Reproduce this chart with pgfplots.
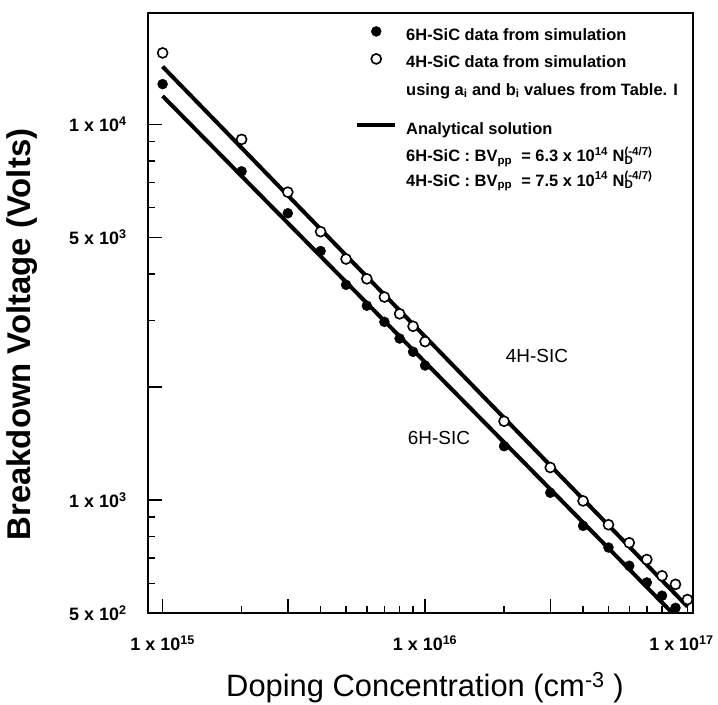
\documentclass[border=0pt]{standalone}
\usepackage{fontspec}
\setmainfont{Liberation Sans}
\usepackage{pgfplots}
\pgfplotsset{compat=1.18}
\pgfplotsset{
  markleg/.style={legend image code/.code={\draw[##1] plot coordinates {(19bp,0bp)}; \path (0bp,0bp) (38bp,0bp);}},
  lineleg/.style={legend image code/.code={\draw[##1] (0bp,0bp) -- (38bp,0bp);}},
}
\newcommand{\rs}{\rule[-6bp]{0pt}{25bp}}
\begin{document}
\begin{tikzpicture}
\useasboundingbox (-148bp,-92bp) rectangle (570bp,613bp);
\begin{axis}[
  scale only axis, width=545bp, height=600bp,
  xmode=log, ymode=log,
  xmin=8.8e14, xmax=1.05e17, ymin=500, ymax=19800,
  axis line style={line width=2bp},
  tick align=inside, xtick pos=bottom, ytick pos=left,
  major tick length=14bp, minor tick length=7bp,
  tick style={black, line width=1.5bp},
  xtick={1e15,3e15,1e16,3e16,1e17},
  xticklabels={1 x 10\textsuperscript{15},,1 x 10\textsuperscript{16},,\hspace*{-12bp}1 x 10\textsuperscript{17}},
  minor xtick={2e15,4e15,5e15,6e15,7e15,8e15,9e15,2e16,4e16,5e16,6e16,7e16,8e16,9e16},
  ytick={500,1000,2000,5000,10000},
  yticklabels={5 x 10\textsuperscript{2},1 x 10\textsuperscript{3},,5 x 10\textsuperscript{3},1 x 10\textsuperscript{4}},
  minor ytick={600,700,800,900,3000,4000,6000,7000,8000,9000},
  xticklabel style={font=\bfseries\fontsize{18}{20}\selectfont, yshift=-19bp},
  yticklabel style={font=\bfseries\fontsize{18}{20}\selectfont, xshift=-18bp},
  xlabel={Doping Concentration (cm\textsuperscript{-3}\ )},
  ylabel={\bfseries Breakdown Voltage (Volts)},
  every axis x label/.style={at={(axis description cs:0.508,-0.125)}, anchor=center, font=\fontsize{31}{35}\selectfont},
  every axis y label/.style={at={(axis description cs:-0.2312,0.464)}, anchor=center, rotate=90, font=\fontsize{33}{37}\selectfont},
  legend style={at={(axis description cs:0.3798,0.9867)}, anchor=north west, draw=none, fill=none, inner sep=0pt, column sep=9bp, row sep=7bp, font=\bfseries\fontsize{16.5}{19}\selectfont, nodes={inner sep=0pt}},
  legend cell align=left,
]
\addplot[only marks, mark=*, mark size=5bp, black, markleg]
  table {
x y
1e15 12800
2e15 7500
3e15 5800
4e15 4600
5e15 3740
6e15 3290
7e15 2980
8e15 2690
9e15 2480
1e16 2280
2e16 1390
3e16 1045
4e16 853
5e16 747
6e16 668
7e16 603
8e16 556
9e16 516
};
\addlegendentry{\rs 6H-SiC data from simulation}
\addplot[only marks, mark=*, mark size=5bp, black, mark options={fill=white, line width=1.6bp}, markleg]
  table {
x y
1e15 15500
2e15 9120
3e15 6600
4e15 5180
5e15 4380
6e15 3880
7e15 3470
8e15 3130
9e15 2900
1e16 2640
2e16 1620
3e16 1220
4e16 994
5e16 859
6e16 769
7e16 694
8e16 628
9e16 596
1e17 543
};
\addlegendentry{\rs 4H-SiC data from simulation}
\addlegendimage{empty legend}
\addlegendentry{\rs using a\textsubscript{i} and b\textsubscript{i} values from Table. I}
\addlegendimage{empty legend}
\addlegendentry{\rule{0pt}{3bp}}
\addplot[black, line width=4bp, lineleg]
  coordinates {(1e15,11900) (1e17,455)};
\addlegendentry{\rs Analytical solution}
\addlegendimage{empty legend}
\addlegendentry{\rs 6H-SiC : BV\textsubscript{pp}\ \ = 6.3 x 10\textsuperscript{14} N\rlap{\textsubscript{D}}\textsuperscript{(-4/7)}}
\addlegendimage{empty legend}
\addlegendentry{\rule[-6bp]{0pt}{22bp}4H-SiC : BV\textsubscript{pp}\ \ = 7.5 x 10\textsuperscript{14} N\rlap{\textsubscript{D}}\textsuperscript{(-4/7)}}
\addplot[black, line width=4bp, forget plot]
  coordinates {(1e15,14250) (1e17,520)};
\node[font=\fontsize{19}{21}\selectfont] at (axis cs:2.67e16,2410) {4H-SIC};
\node[font=\fontsize{19}{21}\selectfont] at (axis cs:1.13e16,1460) {6H-SIC};
\end{axis}
\end{tikzpicture}
\end{document}
